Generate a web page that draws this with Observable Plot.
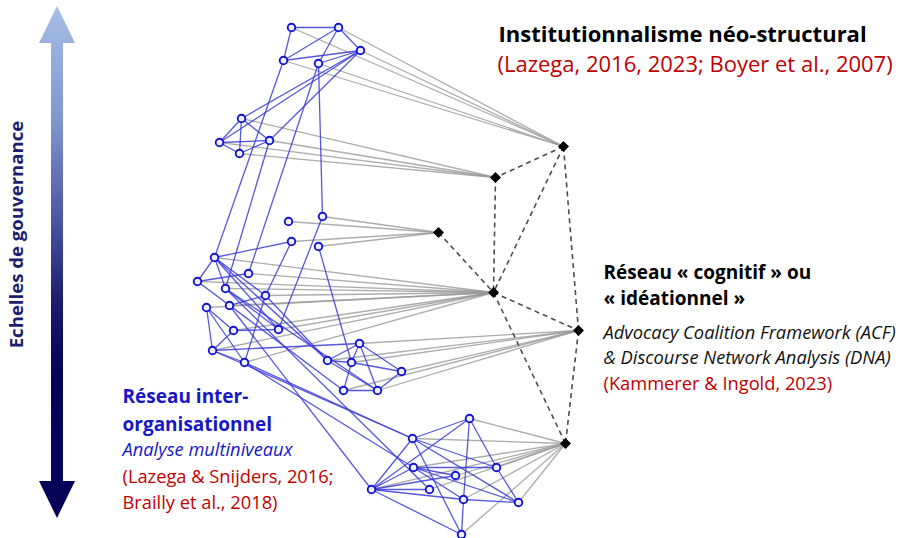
<!DOCTYPE html>
<html>
<head>
<meta charset="utf-8">
<script src="https://cdn.jsdelivr.net/npm/d3@7"></script>
<script src="https://cdn.jsdelivr.net/npm/@observablehq/plot@0.6"></script>
<style>
  html, body { margin: 0; padding: 0; background: #fff; }
  #chart svg { display: block; }
</style>
</head>
<body>
<div id="chart"></div>
<script>
// ---- Data ----
// organisation nodes (blue circles): name, x, y
const orgNames = ["A1","A2","A3","A4","A5","B1","B2","B3","B4","D1","D2","D3","D4",
  "C1","C2","C3","C4","C5","C6","C7","C8","C9","C10","C11",
  "E1","E2","E3","E4","E5","E6",
  "F1","F2","F3","F4","F5","F6","F7","F8","F9","F10"];
const orgX = [291,338,360,283,318,241,219,269,239,322,288,291,318,
  214,248,197,225,265,229,206,233,278,212,244,
  359,327,351,401,343,377,
  469,412,413,496,455,371,429,463,518,461];
const orgY = [27,27,50,60,63,118,142,140,153,216,221,241,246,
  257,273,281,288,295,305,307,330,329,350,362,
  343,360,362,371,390,390,
  418,438,467,467,475,489,489,499,502,534];

// idea / institution nodes (black diamonds)
const ideaNames = ["K1","K2","K3","K4","K5","K6"];
const ideaX = [563,495,438,493,578,565];
const ideaY = [146,177,232,292,330,443];

// inter-organisational ties (blue)
const orgTies = [
  ["A1","A2"],["A1","A4"],["A2","A4"],["A2","A5"],["A2","A3"],["A4","A3"],["A5","A3"],
  ["A3","B1"],["A3","B2"],["A3","B3"],["B1","B2"],["B1","B3"],["B1","B4"],["B2","B3"],["B2","B4"],["B3","B4"],
  ["A4","C1"],["B3","C4"],["A5","C2"],["A5","D1"],
  ["D1","C9"],["D3","C1"],["D3","C5"],["D4","E3"],
  ["C1","C3"],["C3","C2"],["C1","C4"],["C1","C5"],["C1","C9"],["C4","C9"],["C6","C5"],["C5","C11"],
  ["C7","C10"],["C7","C11"],["C7","C8"],["C8","C10"],["C8","C9"],["C10","C11"],
  ["C10","E1"],["C1","E2"],["C4","E6"],["C5","E2"],["C3","E5"],
  ["C6","F6"],["C10","F2"],["C11","F3"],["C4","F7"],["C11","F2"],
  ["E1","E2"],["E1","E3"],["E1","E4"],["E1","E6"],["E2","E3"],["E2","E6"],["E3","E4"],["E3","E5"],["E5","E6"],["E4","E6"],
  ["F1","F2"],["F1","F6"],["F1","F4"],["F1","F8"],["F8","F10"],["F2","F6"],["F2","F4"],["F2","F9"],["F2","F10"],
  ["F3","F4"],["F3","F5"],["F3","F9"],["F3","F8"],["F3","F6"],["F6","F5"],["F6","F7"],["F6","F8"],["F6","F10"],
  ["F8","F9"],["F4","F9"]
];

// affiliation ties organisation -> idea (gray)
const affiliations = [
  ["A1","K1"],["A2","K1"],["A3","K1"],["A4","K1"],["A5","K1"],
  ["B1","K2"],["B2","K2"],["B3","K2"],["B4","K2"],
  ["D1","K3"],["D2","K3"],["D3","K3"],["D4","K3"],
  ["C1","K4"],["C2","K4"],["C3","K4"],["C4","K4"],["C5","K4"],["C6","K4"],["C7","K4"],["C8","K4"],["C9","K4"],["C10","K4"],["C11","K4"],
  ["E1","K5"],["E2","K5"],["E3","K5"],["E4","K5"],["E5","K5"],["E6","K5"],
  ["F1","K6"],["F2","K6"],["F3","K6"],["F4","K6"],["F5","K6"],["F6","K6"],["F7","K6"],["F8","K6"],["F9","K6"],["F10","K6"]
];

// ties between ideas (dashed)
const ideaTies = [["K1","K2"],["K1","K4"],["K1","K5"],["K2","K4"],["K3","K4"],["K4","K5"],["K4","K6"],["K5","K6"]];

// texts
const axisLabel = "Echelles de gouvernance";
const instTitle = "Institutionnalisme néo-structural";
const instRef = "(Lazega, 2016, 2023; Boyer et al., 2007)";
const cogTitle = ["Réseau « cognitif » ou", "« idéationnel »"];
const cogSub = ["Advocacy Coalition Framework (ACF)", "& Discourse Network Analysis (DNA)"];
const cogRef = "(Kammerer & Ingold, 2023)";
const orgTitle = ["Réseau inter-", "organisationnel"];
const orgSub = "Analyse multiniveaux";
const orgRef = ["(Lazega & Snijders, 2016;", "Brailly et al., 2018)"];

// ---- Build tables ----
const pos = new Map();
orgNames.forEach((n, i) => pos.set(n, [orgX[i], orgY[i]]));
ideaNames.forEach((n, i) => pos.set(n, [ideaX[i], ideaY[i]]));
const toLinks = (pairs) => pairs.map(([a, b]) => ({x1: pos.get(a)[0], y1: pos.get(a)[1], x2: pos.get(b)[0], y2: pos.get(b)[1]}));
const orgNodes = orgNames.map((n, i) => ({name: n, x: orgX[i], y: orgY[i]}));
const ideaNodes = ideaNames.map((n, i) => ({name: n, x: ideaX[i], y: ideaY[i]}));

const squareDiamond = {
  draw(ctx, size) {
    const r = Math.sqrt(size / 2);
    ctx.moveTo(0, -r); ctx.lineTo(r, 0); ctx.lineTo(0, r); ctx.lineTo(-r, 0); ctx.closePath();
  }
};

// gradient double arrow, drawn through the plot's scales
function arrowMark(index, scales) {
  const X = scales.x, Y = scales.y;
  const cx = 57, top = 6, bot = 518, head = 37, sw = 6, hw = 18;
  const pts = [
    [cx, top], [cx + hw, top + head], [cx + sw, top + head], [cx + sw, bot - head],
    [cx + hw, bot - head], [cx, bot], [cx - hw, bot - head], [cx - sw, bot - head],
    [cx - sw, top + head], [cx - hw, top + head]
  ].map(([a, b]) => [X(a), Y(b)]);
  const g = d3.create("svg:g");
  const grad = g.append("defs").append("linearGradient")
    .attr("id", "govGrad").attr("x1", 0).attr("y1", 0).attr("x2", 0).attr("y2", 1);
  [[0, "#a5bee5"], [0.22, "#8297cf"], [0.42, "#4a55a2"], [0.58, "#1c1b6c"], [0.7, "#08045a"], [1, "#050058"]]
    .forEach(([o, c]) => grad.append("stop").attr("offset", o).attr("stop-color", c));
  g.append("path").attr("d", "M" + pts.map(p => p.join(",")).join("L") + "Z").attr("fill", "url(#govGrad)");
  return g.node();
}

const FONT = "'Open Sans', 'Noto Sans', sans-serif";

const chart = Plot.plot({
  width: 924,
  height: 538,
  margin: 0,
  x: {domain: [0, 924], range: [0, 924], axis: null},
  y: {domain: [0, 538], range: [0, 538], axis: null},
  style: {fontFamily: FONT, background: "white"},
  marks: [
    arrowMark,
    Plot.text([axisLabel], {x: 17, y: 234, text: d => d, rotate: -90, fontSize: 18.6, fontWeight: "bold", fill: "#1e1e6e", fontFamily: FONT}),
    Plot.link(toLinks(affiliations), {x1: "x1", y1: "y1", x2: "x2", y2: "y2", stroke: "#999", strokeWidth: 1.3, strokeOpacity: 0.8}),
    Plot.link(toLinks(ideaTies), {x1: "x1", y1: "y1", x2: "x2", y2: "y2", stroke: "#4d4d4d", strokeWidth: 1.6, strokeDasharray: "5,4"}),
    Plot.link(toLinks(orgTies), {x1: "x1", y1: "y1", x2: "x2", y2: "y2", stroke: "#3a3ad8", strokeWidth: 1.3, strokeOpacity: 0.85}),
    Plot.dot(orgNodes, {x: "x", y: "y", r: 3.8, stroke: "#1212d2", strokeWidth: 1.9, fill: "#eef0ff"}),
    Plot.dot(ideaNodes, {x: "x", y: "y", r: 4.4, symbol: squareDiamond, fill: "black", stroke: "none"}),
    // institutional block
    Plot.text([instTitle], {x: 498, y: 41, text: d => d, textAnchor: "start", lineAnchor: "bottom", fontSize: 22, fontWeight: "bold", fill: "#000"}),
    Plot.text([instRef], {x: 497, y: 71, text: d => d, textAnchor: "start", lineAnchor: "bottom", fontSize: 22, fill: "#c00000"}),
    // cognitive block
    Plot.text(cogTitle, {x: 603, y: (d, i) => 278 + i * 26, text: d => d, textAnchor: "start", lineAnchor: "bottom", fontSize: 19, fontWeight: "bold", fill: "#000"}),
    Plot.text(cogSub, {x: 603, y: (d, i) => 338 + i * 25, text: d => d, textAnchor: "start", lineAnchor: "bottom", fontSize: 18.3, fontStyle: "italic", fill: "#111"}),
    Plot.text([cogRef], {x: 603, y: 389, text: d => d, textAnchor: "start", lineAnchor: "bottom", fontSize: 18.3, fill: "#c00000"}),
    // organisational block
    Plot.text(orgTitle, {x: 122, y: (d, i) => 402 + i * 28, text: d => d, textAnchor: "start", lineAnchor: "bottom", fontSize: 19, fontWeight: "bold", fill: "#1717c9"}),
    Plot.text([orgSub], {x: 122, y: 455, text: d => d, textAnchor: "start", lineAnchor: "bottom", fontSize: 18.3, fontStyle: "italic", fill: "#1717c9"}),
    Plot.text(orgRef, {x: 122, y: (d, i) => 482 + i * 26, text: d => d, textAnchor: "start", lineAnchor: "bottom", fontSize: 18.3, fill: "#c00000"})
  ]
});
document.getElementById("chart").appendChild(chart);
</script>
</body>
</html>
